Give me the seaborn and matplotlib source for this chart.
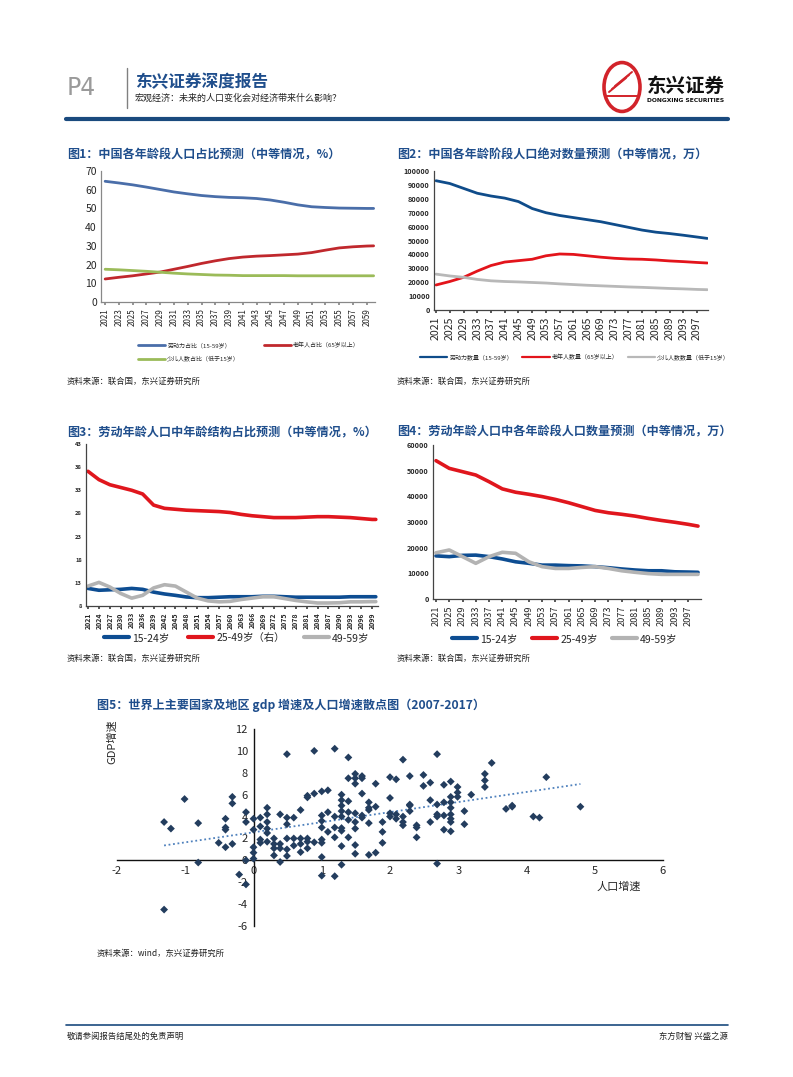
import numpy as np
import pandas as pd
import matplotlib
matplotlib.use("Agg")
import matplotlib.pyplot as plt
from matplotlib.lines import Line2D
from matplotlib.patches import Circle
import seaborn as sns

# ---- data -------------------------------------------------------------
years1 = [2021, 2023, 2025, 2027, 2029, 2031, 2033, 2035, 2037, 2039, 2041,
          2043, 2045, 2047, 2049, 2051, 2053, 2055, 2057, 2059, 2060]
labor1 = [64.5, 63.6, 62.6, 61.4, 60.1, 58.8, 57.8, 56.9, 56.3, 55.9, 55.7,
          55.3, 54.5, 53.3, 51.9, 50.9, 50.5, 50.2, 50.1, 50.0, 50.0]
old1 = [12.3, 13.2, 14.0, 15.0, 16.0, 17.5, 19.0, 20.6, 22.0, 23.2, 24.0,
        24.5, 24.8, 25.2, 25.6, 26.4, 27.7, 28.9, 29.5, 29.9, 30.0]
kids1 = [17.5, 17.2, 16.8, 16.4, 15.9, 15.4, 15.0, 14.7, 14.4, 14.3, 14.1,
         14.1, 14.1, 14.1, 14.0, 14.0, 14.0, 14.0, 14.0, 14.0, 14.0]
ticks1 = list(range(2021, 2060, 2))

years2 = [2021, 2025, 2029, 2033, 2037, 2041, 2045, 2049, 2053, 2057, 2061,
          2065, 2069, 2073, 2077, 2081, 2085, 2089, 2093, 2097, 2100]
labor2 = [93000, 91000, 87500, 84000, 82000, 80500, 78000, 73000, 70000, 68000, 66500,
          65000, 63500, 61500, 59500, 57500, 56000, 55000, 53800, 52500, 51500]
old2 = [18000, 20500, 23500, 28000, 32000, 34500, 35500, 36500, 39000, 40300, 40000,
        39000, 38000, 37200, 36700, 36500, 36000, 35300, 34800, 34200, 33800]
kids2 = [25800, 24500, 23500, 22000, 21000, 20500, 20200, 19800, 19400, 18800, 18300,
         17800, 17400, 17000, 16600, 16300, 15900, 15500, 15200, 14800, 14600]
ticks2 = list(range(2021, 2100, 4))

years3 = list(range(2021, 2100, 3)) + [2100]
g1524_3 = [11.8, 11.4, 11.5, 11.6, 11.8, 11.6, 11.0, 10.6, 10.3, 9.95, 9.8, 9.8, 9.9, 10.0,
           10.0, 10.0, 10.1, 10.1, 10.0, 9.9, 9.9, 9.9, 9.9, 9.9, 10.0, 10.0, 10.0, 10.0]
g2549_3 = [37.1, 35.3, 34.2, 33.6, 33.0, 32.2, 29.8, 29.1, 28.9, 28.7, 28.6, 28.5, 28.4, 28.2,
           27.8, 27.5, 27.3, 27.1, 27.1, 27.1, 27.2, 27.3, 27.3, 27.2, 27.1, 26.9, 26.7, 26.7]
g4959_3 = [12.3, 13.1, 12.1, 10.7, 9.7, 10.3, 11.9, 12.6, 12.3, 11.0, 9.7, 9.1, 8.9, 9.0,
           9.4, 9.7, 10.0, 10.0, 9.6, 9.2, 8.9, 8.65, 8.65, 8.7, 8.9, 8.9, 8.95, 8.95]
ticks3 = list(range(2021, 2100, 3))

years4 = years2
g1524_4 = [16800, 16500, 17000, 17100, 16500, 15600, 14500, 13900, 13200, 13200, 13000,
           12900, 12600, 12200, 11700, 11300, 11000, 11000, 10600, 10500, 10400]
g2549_4 = [53900, 50900, 49600, 48300, 45700, 42900, 41600, 40800, 39900, 38800, 37500,
           36000, 34500, 33600, 33000, 32300, 31400, 30600, 29900, 29100, 28400]
g4959_4 = [18000, 19100, 16500, 13900, 16500, 18200, 17800, 14500, 12600, 11900, 11900,
           12300, 12600, 11900, 11000, 10400, 9900, 9600, 9600, 9600, 9600]
ticks4 = ticks2

pop_growth = [-1.31, -1.21, -1.01, -0.81, -0.81, -1.31, -0.51, -0.41, -0.41, -0.41, -0.41,
              -0.31, -0.31, -0.31, -0.21, -0.11, -0.11, -0.11, -0.11,
              0.0, 0.0, 0.0, 0.0, 0.0, 0.1, 0.1, 0.1, 0.1,
              0.2, 0.2, 0.2, 0.2, 0.2, 0.2, 0.3, 0.3, 0.3, 0.3,
              0.39, 0.39, 0.39, 0.39, 0.49, 0.49, 0.49, 0.49, 0.49, 0.49,
              0.59, 0.59, 0.59, 0.69, 0.69, 0.69, 0.69,
              0.79, 0.79, 0.79, 0.79, 0.79, 0.89, 0.89, 0.89,
              1.0, 1.0, 1.0, 1.0, 1.0, 1.0, 1.0, 1.0, 1.09, 1.09, 1.09,
              1.19, 1.19, 1.19, 1.19, 1.19,
              1.29, 1.29, 1.29, 1.29, 1.29, 1.29, 1.29, 1.29, 1.29,
              1.39, 1.39, 1.39, 1.39, 1.39, 1.39,
              1.49, 1.49, 1.49, 1.49, 1.49, 1.49, 1.49, 1.49,
              1.59, 1.59, 1.59, 1.59, 1.59, 1.69, 1.69, 1.69, 1.69, 1.69,
              1.79, 1.79, 1.79, 1.89, 1.89, 1.89,
              2.0, 2.0, 2.0, 2.0, 2.09, 2.09, 2.09, 2.19, 2.19, 2.19, 2.19,
              2.29, 2.29, 2.29, 2.29, 2.39, 2.39, 2.39, 2.49, 2.49,
              2.59, 2.59, 2.59, 2.69, 2.69, 2.69, 2.69, 2.69,
              2.79, 2.79, 2.79, 2.79, 2.89, 2.89, 2.89, 2.89, 2.89, 2.89, 2.89, 2.89,
              2.99, 2.99, 2.99, 3.09, 3.09, 3.19, 3.39, 3.39, 3.39, 3.49,
              3.7, 3.79, 3.79, 4.1, 4.19, 4.29, 4.79]
gdp_growth = [3.5, 2.9, 5.6, 3.4, -0.2, -4.5, 1.6, 1.2, 3.8, 3.0, 2.8,
              5.8, 5.2, 1.5, -1.3, -2.2, 4.4, 3.5, 0.0,
              3.8, 2.8, 1.2, 0.7, 0.15, 3.9, 3.1, 1.9, 1.6,
              4.8, 4.2, 3.5, 2.9, 2.5, 1.7, 2.0, 1.5, 1.1, 0.45,
              4.2, 1.5, 1.1, -0.15, 9.7, 3.9, 3.3, 2.0, 1.0, 0.4,
              3.9, 2.0, 1.35, 4.6, 2.0, 1.5, 0.75,
              5.9, 5.75, 2.0, 1.7, 1.1, 10.0, 6.1, 1.65,
              6.3, 4.1, 3.6, 3.0, 1.9, 1.6, 0.3, -1.4, 6.4, 4.4, 2.6,
              10.2, 4.0, 3.0, 2.1, -1.45,
              6.0, 5.5, 5.0, 4.5, 4.0, 2.95, 2.7, 1.3, -0.4,
              9.4, 7.5, 5.4, 4.4, 3.7, 2.1,
              7.9, 7.5, 7.0, 4.3, 3.5, 2.9, 1.4, 0.6,
              7.7, 7.5, 6.1, 4.1, 3.9, 5.3, 4.8, 4.6, 3.4, 0.5,
              7.0, 4.9, 0.7, 3.5, 2.6, 1.6,
              7.6, 5.7, 4.3, 4.0, 7.4, 4.2, 3.8, 9.2, 4.0, 3.5, 3.2,
              7.7, 5.1, 5.0, 4.5, 3.2, 3.0, 2.1, 7.8, 6.8,
              7.1, 5.5, 3.5, 9.7, 5.1, 4.2, 4.0, -0.3,
              6.9, 5.3, 4.1, 2.8, 7.2, 5.8, 5.3, 4.8, 4.2, 3.8, 3.5, 2.65,
              6.7, 6.2, 5.8, 4.5, 3.3, 6.0, 7.9, 7.3, 6.7, 8.9,
              4.7, 5.0, 4.9, 4.0, 3.9, 7.6, 4.9]

# ---- layout helpers ---------------------------------------------------
W, H = 793, 1077
sns.set_theme(style="white")
plt.rcParams['font.family'] = ['Noto Sans CJK SC', 'DejaVu Sans']
plt.rcParams['axes.unicode_minus'] = False

fig = plt.figure(figsize=(W / 100, H / 100), dpi=100)
fig.patch.set_facecolor('white')


def box(x0, y0, x1, y1):
    return [x0 / W, 1 - y1 / H, (x1 - x0) / W, (y1 - y0) / H]


def fx(x):
    return x / W


def fy(y):
    return 1 - y / H


NAVY = '#1f4e8c'
SRC = dict(fontsize=6, color='#222222', style='italic', va='center')
TITLE = dict(fontsize=8.7, weight='bold', color=NAVY, va='center')

# ---- header / footer --------------------------------------------------
fig.text(fx(67), fy(88), 'P4', fontsize=17, color='#9a9a9a', va='center',
         family=['DejaVu Sans'])
fig.add_artist(Line2D([fx(127), fx(127)], [fy(68), fy(108)], color='#808080', lw=1))
fig.text(fx(135), fy(82), '东兴证券深度报告', fontsize=12, weight='bold', color=NAVY, va='center')
fig.text(fx(135), fy(98), '宏观经济：未来的人口变化会对经济带来什么影响？', fontsize=6.5,
         color='#222222', va='center')
fig.add_artist(Line2D([fx(66), fx(728)], [fy(119), fy(119)], color='#1a4a7e', lw=3))
# logo
fig.add_artist(Circle((fx(622), fy(87)), 18 / W, transform=fig.transFigure,
                      facecolor='white', edgecolor='#d2232a', lw=2.6))
for k in range(3):
    fig.add_artist(Line2D([fx(609 + 3 * k), fx(626 + 3 * k)],
                          [fy(92 - 3 * k), fy(78 - 3 * k)], color='#d2232a', lw=1.4))
fig.add_artist(Line2D([fx(607), fx(637)], [fy(96), fy(96)], color='#d2232a', lw=1.4))
fig.text(fx(686), fy(86), '东兴证券', fontsize=14, weight='bold', color='#111111',
         ha='center', va='center')
fig.text(fx(686), fy(101), 'DONGXING SECURITIES', fontsize=4.3, weight='bold',
         color='#111111', ha='center', va='center', family=['DejaVu Sans'])

fig.add_artist(Line2D([fx(66), fx(728)], [fy(1025), fy(1025)], color='#1a4a7e', lw=1.2))
fig.text(fx(67), fy(1036), '敬请参阅报告结尾处的免责声明', fontsize=6, color='#222222', va='center')
fig.text(fx(728), fy(1036), '东方财智 兴盛之源', fontsize=6, color='#222222', va='center', ha='right')


def style_axes(ax, xlim, ylim, yticks, xticks, ylab_size, xlab_size, spine='#888888'):
    ax.set_xlim(*xlim)
    ax.set_ylim(*ylim)
    ax.set_yticks(yticks)
    ax.set_xticks(xticks)
    ax.set_xticklabels([str(t) for t in xticks], rotation=90)
    ax.tick_params(axis='y', labelsize=ylab_size, length=0, pad=3)
    ax.tick_params(axis='x', labelsize=xlab_size, length=2.5, direction='out',
                   bottom=True, color=spine, pad=2)
    sns.despine(ax=ax)
    for s in ('left', 'bottom'):
        ax.spines[s].set_color(spine)
        ax.spines[s].set_linewidth(0.9)
    ax.set_xlabel('')
    ax.set_ylabel('')
    ax.patch.set_alpha(0)


def legend(ax, handles, labels, x, y, size, ncol, hl, colsp):
    ax.legend(handles, labels, loc='center left', bbox_to_anchor=(fx(x), fy(y)),
              bbox_transform=fig.transFigure, ncol=ncol, frameon=False, fontsize=size,
              handlelength=hl, columnspacing=colsp, handletextpad=0.3,
              labelspacing=1.2, borderaxespad=0, borderpad=0)


# ---- chart 1 ----------------------------------------------------------
fig.text(fx(67), fy(155), '图1：中国各年龄段人口占比预测（中等情况，%）', **TITLE)
ax1 = fig.add_axes(box(101, 171, 375, 302))
c1 = ['#4a6ea9', '#c0282d', '#9bbb59']
for vals, c in zip([labor1, old1, kids1], c1):
    sns.lineplot(x=years1, y=vals, ax=ax1, color=c, linewidth=2)
style_axes(ax1, (2020.4, 2060.2), (0, 70), range(0, 71, 10), ticks1, 7.5, 5.8)
h1 = [Line2D([], [], color=c, lw=2) for c in c1]
# column-wise fill: labor & kids in the first column, old in the second
legend(ax1, [h1[0], h1[2], h1[1]],
       ['劳动力占比（15-59岁）', '少儿人数占比（低于15岁）', '老年人占比（65岁以上）'],
       138, 352, 4.3, 2, 4.6, 4.0)
fig.text(fx(67), fy(381), '资料来源：联合国，东兴证券研究所', **SRC)

# ---- chart 2 ----------------------------------------------------------
fig.text(fx(397), fy(155), '图2：中国各年龄阶段人口绝对数量预测（中等情况，万）', **TITLE)
ax2 = fig.add_axes(box(434, 171, 708, 310))
c2 = ['#0f4c8a', '#e3141b', '#b8b8b8']
for vals, c in zip([labor2, old2, kids2], c2):
    sns.lineplot(x=years2, y=vals, ax=ax2, color=c, linewidth=2)
style_axes(ax2, (2020.4, 2100.2), (0, 100000), range(0, 100001, 10000), ticks2, 5.2, 7.6,
           spine='#444444')
for t in ax2.get_yticklabels():
    t.set_fontweight('bold')
h2 = [Line2D([], [], color=c, lw=1.6) for c in c2]
legend(ax2, h2, ['劳动力数量（15-59岁）', '老年人数量（65岁以上）', '少儿人数数量（低于15岁）'],
       420, 357, 4.3, 3, 4.6, 1.6)
fig.text(fx(397), fy(381), '资料来源：联合国，东兴证券研究所', **SRC)

# ---- chart 3 ----------------------------------------------------------
fig.text(fx(67), fy(432), '图3：劳动年龄人口中年龄结构占比预测（中等情况，%）', **TITLE)
ax3 = fig.add_axes(box(86, 444, 378, 606))
c3 = ['#0d4d92', '#e0161d', '#b3b3b3']
for vals, c in zip([g1524_3, g2549_3, g4959_3], c3):
    sns.lineplot(x=years3, y=vals, ax=ax3, color=c, linewidth=2.6)
style_axes(ax3, (2020.45, 2100.6), (8, 43), range(8, 44, 5), ticks3, 4.2, 5.0,
           spine='#444444')
for t in ax3.get_yticklabels() + ax3.get_xticklabels():
    t.set_fontweight('bold')
h3 = [Line2D([], [], color=c, lw=3) for c in c3]
legend(ax3, h3, ['15-24岁', '25-49岁（右）', '49-59岁'], 104, 638, 7.5, 3, 2.4, 1.8)
fig.text(fx(67), fy(658), '资料来源：联合国，东兴证券研究所', **SRC)

# ---- chart 4 ----------------------------------------------------------
fig.text(fx(397), fy(432), '图4：劳动年龄人口中各年龄段人口数量预测（中等情况，万）', **TITLE)
ax4 = fig.add_axes(box(433, 445, 701, 599))
for vals, c in zip([g1524_4, g2549_4, g4959_4], c3):
    sns.lineplot(x=years4, y=vals, ax=ax4, color=c, linewidth=2.6)
style_axes(ax4, (2020.1, 2100.9), (0, 60000), range(0, 60001, 10000), ticks4, 5.2, 6.6,
           spine='#444444')
for t in ax4.get_yticklabels():
    t.set_fontweight('bold')
legend(ax4, h3, ['15-24岁', '25-49岁', '49-59岁'], 452, 639, 7.5, 3, 2.4, 1.4)
fig.text(fx(397), fy(658), '资料来源：联合国，东兴证券研究所', **SRC)

# ---- chart 5 ----------------------------------------------------------
fig.text(fx(97), fy(705), '图5：世界上主要国家及地区 gdp 增速及人口增速散点图（2007-2017）', **TITLE)
ax5 = fig.add_axes(box(117, 729, 663, 926))
df5 = pd.DataFrame({'pop': pop_growth, 'gdp': gdp_growth})
sns.scatterplot(data=df5, x='pop', y='gdp', ax=ax5, marker='D', s=16,
                color='#233d5e', edgecolor='none', zorder=3)
k, b = np.polyfit(df5['pop'], df5['gdp'], 1)
xs = np.array([df5['pop'].min(), df5['pop'].max()])
ax5.plot(xs, k * xs + b, ls=(0, (1, 1.5)), color='#4f81bd', lw=1.3, zorder=2)
ax5.set_xlim(-2, 6)
ax5.set_ylim(-6, 12)
ax5.set_xticks(range(-2, 7))
ax5.set_yticks(range(-6, 13, 2))
ax5.spines['left'].set_position(('data', 0))
ax5.spines['bottom'].set_position(('data', 0))
ax5.spines['top'].set_visible(False)
ax5.spines['right'].set_visible(False)
for s in ('left', 'bottom'):
    ax5.spines[s].set_color('#111111')
    ax5.spines[s].set_linewidth(1)
ax5.tick_params(axis='both', length=0, labelsize=8, pad=4)
ax5.set_xlabel('')
ax5.set_ylabel('')
ax5.patch.set_alpha(0)
fig.text(fx(112), fy(742), 'GDP增速', rotation=90, fontsize=8, ha='center', va='center')
fig.text(fx(619), fy(887), '人口增速', fontsize=8, ha='center', va='center')
fig.text(fx(97), fy(953), '资料来源：wind，东兴证券研究所', **SRC)

fig.savefig('out.png', dpi=100, facecolor='white')
